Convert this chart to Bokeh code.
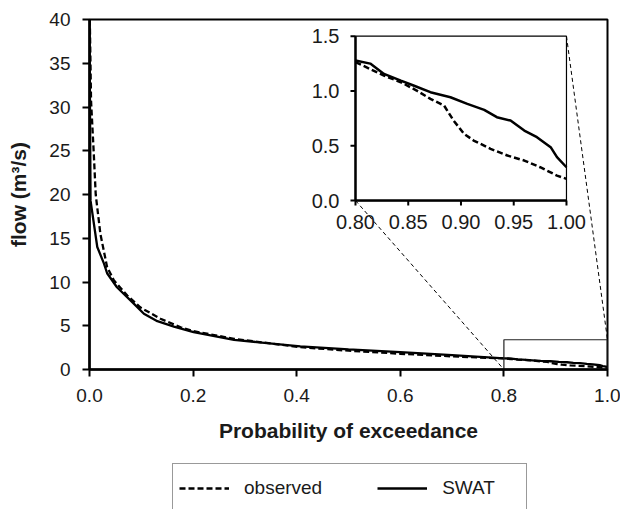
import numpy as np
from bokeh.plotting import figure
from bokeh.layouts import column
from bokeh.models import (Range1d, FixedTicker, PrintfTickFormatter, Legend, LegendItem)
from bokeh.core.properties import value
from bokeh.embed import file_html
from bokeh.resources import INLINE

# ---- data ----
p_obs = [0.0006, 0.003, 0.008, 0.012, 0.021, 0.034, 0.047, 0.073, 0.098, 0.137, 0.176,
         0.201, 0.279, 0.407, 0.50, 0.60, 0.70, 0.80, 0.814, 0.827, 0.843, 0.858, 0.871,
         0.884, 0.893, 0.903, 0.912, 0.928, 0.944, 0.960, 0.975, 0.991, 1.000]
q_obs = [40, 30.7, 25, 20, 15.5, 11.7, 10.2, 8.46, 7.1, 5.8, 4.83,
         4.38, 3.5, 2.55, 2.15, 1.8, 1.5, 1.263, 1.20, 1.14, 1.08, 1.004, 0.928,
         0.867, 0.730, 0.608, 0.548, 0.472, 0.411, 0.365, 0.304, 0.228, 0.198]

p_swat = [0.0, 0.002, 0.015, 0.028, 0.034, 0.053, 0.086, 0.105, 0.131, 0.163, 0.201,
          0.279, 0.407, 0.50, 0.60, 0.70, 0.80, 0.814, 0.827, 0.843, 0.855, 0.871, 0.890,
          0.906, 0.922, 0.934, 0.947, 0.960, 0.972, 0.985, 0.991, 1.000]
q_swat = [40, 19.3, 14.0, 12.1, 11.0, 9.4, 7.5, 6.37, 5.52, 4.91, 4.26,
          3.39, 2.65, 2.3, 1.98, 1.65, 1.278, 1.25, 1.156, 1.095, 1.05, 0.989, 0.943,
          0.882, 0.828, 0.761, 0.730, 0.639, 0.578, 0.487, 0.396, 0.304]

x_ticks = [0.0, 0.2, 0.4, 0.6, 0.8, 1.0]
y_ticks = [0, 5, 10, 15, 20, 25, 30, 35, 40]
inset_x_ticks = [0.80, 0.85, 0.90, 0.95, 1.00]
inset_y_ticks = [0.0, 0.5, 1.0, 1.5]
inset_x_labels = ["0.80", "0.85", "0.90", "0.95", "1.00"]
inset_y_labels = ["0.0", "0.5", "1.0", "1.5"]
zoom_box = (0.8, 1.0, 0.0, 3.4)   # x0, x1, y0, y1 of the zoom window
series_names = ["observed", "SWAT"]

# ---- layout constants ----
FONT = "Liberation Sans"
INSET = (0.5135, 0.9208, 19.31, 38.09)  # inset placement in main data units (x0, x1, y0, y1)
IX = (0.8, 1.0)
IY = (0.0, 1.5)
OBS_STYLE = dict(line_color="black", line_width=2.3, line_dash="6 3")
SWAT_STYLE = dict(line_color="black", line_width=2.3)

p = figure(width=620, height=452, output_backend="svg", toolbar_location=None,
           x_range=Range1d(0, 1), y_range=Range1d(0, 40),
           min_border_left=89, min_border_right=13, min_border_top=19, min_border_bottom=83)
p.background_fill_color = "white"
p.border_fill_color = "white"
p.outline_line_color = "black"
p.outline_line_width = 2
p.grid.visible = False

# inset ranges mapped onto the main frame
ax = (IX[1] - IX[0]) / (INSET[1] - INSET[0])
ay = (IY[1] - IY[0]) / (INSET[3] - INSET[2])
p.extra_x_ranges = {"ix": Range1d(IX[0] - INSET[0] * ax, IX[0] + (1 - INSET[0]) * ax)}
p.extra_y_ranges = {"iy": Range1d(IY[0] - INSET[2] * ay, IY[0] + (40 - INSET[2]) * ay)}

for axis in (p.xaxis[0], p.yaxis[0]):
    axis.axis_line_width = 2.5
    axis.axis_line_color = "black"
    axis.major_tick_line_width = 2
    axis.major_tick_out = 7
    axis.major_tick_in = 0
    axis.minor_tick_line_color = None
    axis.major_label_text_font = FONT
    axis.major_label_text_font_size = "19px"
    axis.major_label_text_color = "#1a1a1a"
    axis.axis_label_text_font = FONT
    axis.axis_label_text_font_style = "bold"
    axis.axis_label_text_font_size = "21px"
    axis.axis_label_text_color = "#1a1a1a"

p.xaxis.ticker = FixedTicker(ticks=x_ticks)
p.xaxis.formatter = PrintfTickFormatter(format="%.1f")
p.xaxis.major_label_standoff = 12
p.xaxis.axis_label = "Probability of exceedance"
p.xaxis.axis_label_standoff = 14
p.yaxis.ticker = FixedTicker(ticks=y_ticks)
p.yaxis.major_label_standoff = 12
p.yaxis.axis_label = "flow (m³/s)"
p.yaxis.axis_label_standoff = 16

# main curves
p.line(p_obs, q_obs, **OBS_STYLE)
p.line(p_swat, q_swat, **SWAT_STYLE)

# zoom window and connectors
p.quad(left=[zoom_box[0]], right=[zoom_box[1]], bottom=[zoom_box[2]], top=[zoom_box[3]],
       fill_color=None, line_color="#222222", line_width=1.2)
p.segment(x0=[INSET[0], INSET[1]], y0=[INSET[2], INSET[3]],
          x1=[zoom_box[0], zoom_box[1]], y1=[zoom_box[2], zoom_box[3]],
          line_color="black", line_width=1, line_dash="4 3")

# inset frame
p.quad(left=[IX[0]], right=[IX[1]], bottom=[IY[0]], top=[IY[1]],
       x_range_name="ix", y_range_name="iy",
       fill_color="white", line_color="black", line_width=1.2)
p.segment(x0=[IX[0], IX[0]], y0=[IY[0], IY[0]], x1=[IX[1], IX[0]], y1=[IY[0], IY[1]],
          x_range_name="ix", y_range_name="iy", line_color="black", line_width=2.5)

# inset ticks
p.ray(x=inset_x_ticks, y=[IY[0]] * len(inset_x_ticks), length=5, length_units="screen",
      angle=-np.pi / 2, x_range_name="ix", y_range_name="iy", line_color="black", line_width=2)
p.ray(x=[IX[0]] * len(inset_y_ticks), y=inset_y_ticks, length=5, length_units="screen",
      angle=np.pi, x_range_name="ix", y_range_name="iy", line_color="black", line_width=2)
p.text(x=inset_x_ticks, y=[IY[0]] * len(inset_x_ticks), text=inset_x_labels,
       x_range_name="ix", y_range_name="iy", text_align="center", text_baseline="top",
       y_offset=14, text_font=value(FONT), text_font_size="20px", text_color="#1a1a1a")
p.text(x=[IX[0]] * len(inset_y_ticks), y=inset_y_ticks, text=inset_y_labels,
       x_range_name="ix", y_range_name="iy", text_align="right", text_baseline="middle",
       x_offset=-16, text_font=value(FONT), text_font_size="20px", text_color="#1a1a1a")

# inset curves
po, qo = np.array(p_obs), np.array(q_obs)
ps, qs = np.array(p_swat), np.array(q_swat)
mo, ms = po >= IX[0], ps >= IX[0]
p.line(po[mo], qo[mo], x_range_name="ix", y_range_name="iy",
       line_color="black", line_width=2.5, line_dash="6 3")
p.line(ps[ms], qs[ms], x_range_name="ix", y_range_name="iy",
       line_color="black", line_width=2.5)

# ---- legend strip below the chart (series drawn out of view, only the legend shows) ----
lg = figure(width=620, height=57, output_backend="svg", toolbar_location=None,
            x_range=Range1d(0, 1), y_range=Range1d(-2, -1),
            x_axis_location=None, y_axis_location=None, min_border=0)
lg.outline_line_color = None
lg.grid.visible = False
lg.background_fill_color = "white"
lg.border_fill_color = "white"
r_obs = lg.line(p_obs, q_obs, **OBS_STYLE)
r_swat = lg.line(p_swat, q_swat, **SWAT_STYLE)
legend = Legend(items=[LegendItem(label=series_names[0], renderers=[r_obs]),
                       LegendItem(label=series_names[1], renderers=[r_swat])],
                orientation="horizontal", location=(83, -4),
                glyph_width=50, glyph_height=36, label_height=36, label_width=78,
                label_standoff=15, spacing=55, padding=6, margin=0,
                border_line_color="#333333", border_line_width=1.2,
                background_fill_color="white", background_fill_alpha=1,
                label_text_font=FONT, label_text_font_size="19px", label_text_color="#1a1a1a")
lg.add_layout(legend, "center")

layout = column(p, lg, spacing=0)
open("out.html", "w").write(file_html(layout, INLINE))
